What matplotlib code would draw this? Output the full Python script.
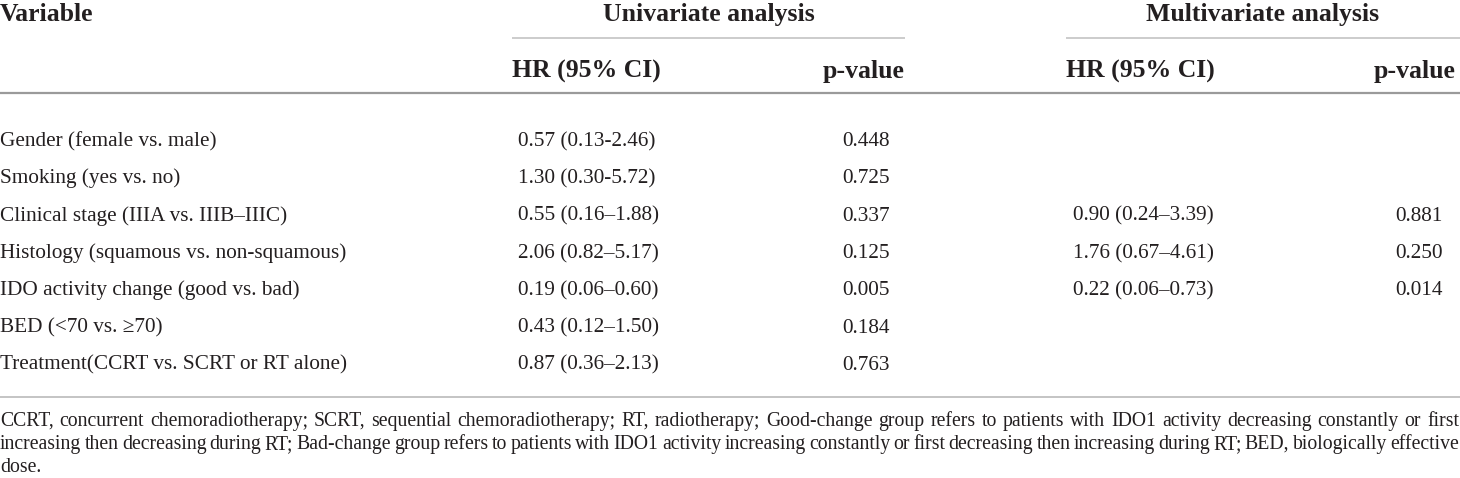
import matplotlib
matplotlib.use('Agg')
import matplotlib.pyplot as plt

# datos de la tabla
variables = ['Gender (female vs. male)',
             'Smoking (yes vs. no)',
             'Clinical stage (IIIA vs. IIIB\u2013IIIC)',
             'Histology (squamous vs. non-squamous)',
             'IDO activity change (good vs. bad)',
             'BED (<70 vs. \u226570)',
             'Treatment(CCRT vs. SCRT or RT alone)']
uni_hr = ['0.57 (0.13-2.46)', '1.30 (0.30-5.72)', '0.55 (0.16\u20131.88)',
          '2.06 (0.82\u20135.17)', '0.19 (0.06\u20130.60)', '0.43 (0.12\u20131.50)',
          '0.87 (0.36\u20132.13)']
uni_p = ['0.448', '0.725', '0.337', '0.125', '0.005', '0.184', '0.763']
multi_hr = ['', '', '0.90 (0.24\u20133.39)', '1.76 (0.67\u20134.61)', '0.22 (0.06\u20130.73)', '', '']
multi_p = ['', '', '0.881', '0.250', '0.014', '', '']
groups = ['Univariate analysis', 'Multivariate analysis']
subheads = ['HR (95% CI)', 'p-value']
nota = ['CCRT, concurrent chemoradiotherapy; SCRT, sequential chemoradiotherapy; RT, radiotherapy; '
        'Good-change group refers to patients with IDO1 activity decreasing constantly or first',
        'increasing then decreasing during RT; Bad-change group refers to patients with IDO1 activity '
        'increasing constantly or first decreasing then increasing during RT; BED, biologically effective',
        'dose.']

W, H = 1460, 478
fig = plt.figure(figsize=(W/100., H/100.), dpi=100)
ax = fig.add_axes([0, 0, 1, 1])
ax.set_xlim(0, W)
ax.set_ylim(H, 0)
ax.axis('off')

fuente = 'Liberation Serif'
negro = '#231f20'
gris = '#9a9a9a'
gris_claro = '#c4c4c4'
tam = 15.3
tam_cab = 18.5
tam_nota = 14.2

# encabezados
ax.text(0, 20.5, 'Variable', fontsize=tam_cab, fontweight='bold', family=fuente, color=negro, va='baseline')
spans = [(512, 905), (1066, 1460)]
for g, (a, b) in zip(groups, spans):
    ax.text((a+b)/2., 20.5, g, fontsize=tam_cab, fontweight='bold', family=fuente, color=negro,
            ha='center', va='baseline')
    ax.plot([a, b], [38, 38], color=gris_claro, lw=1.2, solid_capstyle='butt')
    ax.text(a, 78, subheads[0], fontsize=tam_cab, fontweight='bold', family=fuente, color=negro, va='baseline')
    ax.text(b - 4 if b == W else b, 78, subheads[1], fontsize=tam_cab, fontweight='bold', family=fuente,
            color=negro, ha='right', va='baseline')
ax.plot([0, W], [93, 93], color=gris, lw=1.6, solid_capstyle='butt')

# filas
paso = 37.33
for i in range(len(variables)):
    y = 146 + i*paso
    ax.text(0, y, variables[i], fontsize=tam, family=fuente, color=negro, va='baseline')
    ax.text(518, y, uni_hr[i], fontsize=tam, family=fuente, color=negro, va='baseline')
    ax.text(842, y, uni_p[i], fontsize=tam, family=fuente, color=negro, va='baseline')
    ax.text(1073, y, multi_hr[i], fontsize=tam, family=fuente, color=negro, va='baseline')
    ax.text(1395, y, multi_p[i], fontsize=tam, family=fuente, color=negro, va='baseline')
ax.plot([0, W], [397, 397], color=gris_claro, lw=1.4, solid_capstyle='butt')

# nota al pie, justificada
fig.canvas.draw()
r = fig.canvas.get_renderer()
ys = [426, 449, 472]
for k, linea in enumerate(nota):
    palabras = linea.split(' ')
    objs = [ax.text(0, ys[k], p, fontsize=tam_nota, family=fuente, color=negro, va='baseline')
            for p in palabras]
    if k == len(nota) - 1:
        continue
    anchos = [t.get_window_extent(r).width for t in objs]
    hueco = (W - 1 - sum(anchos)) / (len(palabras) - 1)
    x = 0
    for t, a in zip(objs, anchos):
        t.set_x(x)
        x += a + hueco

plt.savefig('out.png', dpi=100)
